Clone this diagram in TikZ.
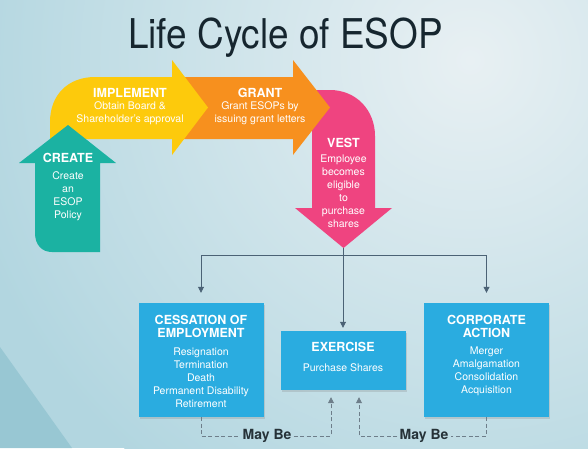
\documentclass[tikz,border=0pt]{standalone}
\usepackage{fontspec}
\setmainfont{TeX Gyre Heros}
\usetikzlibrary{arrows.meta,shadows}
\definecolor{bgout}{RGB}{178,214,224}
\definecolor{bgin}{RGB}{232,240,243}
\definecolor{cornerc}{RGB}{146,196,208}
\definecolor{titlec}{RGB}{22,38,47}
\definecolor{createc}{RGB}{27,178,162}
\definecolor{implc}{RGB}{253,202,12}
\definecolor{grantc}{RGB}{247,144,30}
\definecolor{vestc}{RGB}{239,68,128}
\definecolor{boxc}{RGB}{42,172,224}
\definecolor{linkc}{RGB}{75,98,117}
\definecolor{dashc}{RGB}{110,126,138}
\definecolor{maybec}{RGB}{38,50,56}
\tikzset{
  hd/.style={text=white, font=\fontsize{12.5}{13.5}\selectfont\bfseries, align=center, inner sep=0pt},
  bd/.style={text=white, font=\fontsize{10.5}{13}\selectfont, align=center, inner sep=0pt},
  box/.style={fill=boxc, minimum width=125pt, drop shadow={shadow xshift=1pt, shadow yshift=-1.5pt, opacity=.25}},
  link/.style={draw=linkc, line width=.8pt},
  maybe/.style={draw=dashc, line width=.8pt, dash pattern=on 4pt off 2.5pt},
  tip/.style={-{Triangle[length=6pt,width=6pt]}},
}

\begin{document}
\begin{tikzpicture}[x=1pt,y=-1pt]
    \useasboundingbox (0,0) rectangle (588,448);
    \clip (0,0) rectangle (588,448);
    \fill[bgout] (0,0) rectangle (588,448);
    \shade[inner color=bgin, outer color=bgout] (470,60) circle (520pt);
    \fill[cornerc, opacity=.8] (0,347) -- (72,448) -- (0,448) -- cycle;

    \node[font=\fontsize{41}{44}\selectfont, text=titlec, xscale=.9, anchor=base] (title) at (285.5,48) {Life Cycle of ESOP};

% the four arrows, back to front
\fill[vestc] (312,208) -- (312,92) .. controls (312,90) and (315,90) .. (330,90)
    .. controls (356,90) and (375,110) .. (375,136) -- (375,208) -- (392,208) -- (343.5,248) -- (295,208) -- cycle;
\fill[grantc] (180,77) -- (293,77) -- (293,60) -- (330,107.5) -- (293,155) -- (293,139) -- (180,139) -- cycle;
\fill[implc] (50,140) -- (50,122) .. controls (50,95) and (68,77) .. (95,77) -- (172,77) -- (172,60)
    -- (208,107.5) -- (172,155) -- (172,139) -- (50,139) -- cycle;
\fill[createc] (68,125) -- (116,163) -- (100,163) -- (100,252) -- (52,252)
    .. controls (42,252) and (35,245) .. (35,233) -- (35,163) -- (19,163) -- cycle;

\node[hd] (createhd) at (68,158) {CREATE};
\node[bd] (createbd) at (68,196) {Create\\an\\ESOP\\Policy};
\node[hd] (implhd) at (130,93) {IMPLEMENT};
\node[bd] (implbd) at (130,113) {Obtain Board \&\\Shareholder's approval};
\node[hd] (granthd) at (260,93) {GRANT};
\node[bd] (grantbd) at (260,113) {Grant ESOPs by\\issuing grant letters};
\node[hd] (vesthd) at (343.5,143) {VEST};
\node[bd] (vestbd) at (343.5,191) {Employee\\becomes\\eligible\\to\\purchase\\shares};

% outcome boxes
\node[box, minimum height=114pt] (cess) at (201,360) {};
\node[box, minimum height=59pt] (exer) at (343,360.5) {};
\node[box, minimum height=114pt] (corp) at (486.5,360) {};

\node[hd] (cesshd) at (201,326.5) {CESSATION OF\\EMPLOYMENT};
\node[bd] (cessbd) at (201,378) {Resignation\\Termination\\Death\\Permanent Disability\\Retirement};
\node[hd] (exerhd) at (343,347) {EXERCISE};
\node[bd] (exerbd) at (343,368) {Purchase Shares};
\node[hd] (corphd) at (486.5,326.5) {CORPORATE\\ACTION};
\node[bd] (corpbd) at (486.5,371) {Merger\\Amalgamation\\Consolidation\\Acquisition};

\coordinate (vtip) at (343,248);
\coordinate (split) at (343,255);
\draw[link] (vtip) -- (split);
\draw[link, tip, shorten >=10pt] (split) -| (cess.north);
\draw[link, tip, shorten >=3pt] (split) -- (exer.north);
\draw[link, tip, shorten >=10pt] (split) -| (corp.north);

\node[font=\fontsize{14}{16}\selectfont\bfseries, text=maybec, inner sep=2pt] (may1) at (267,436) {May Be};
\node[font=\fontsize{14}{16}\selectfont\bfseries, text=maybec, inner sep=2pt] (may2) at (424,436) {May Be};

\draw[maybe] (cess.south) |- (may1.west);
\draw[maybe, tip, shorten >=7pt] (may1.east) -| ([xshift=-12pt]exer.south);
\draw[maybe] (corp.south) |- (may2.east);
\draw[maybe, tip, shorten >=7pt] (may2.west) -| ([xshift=16pt]exer.south);

\end{tikzpicture}
\end{document}
